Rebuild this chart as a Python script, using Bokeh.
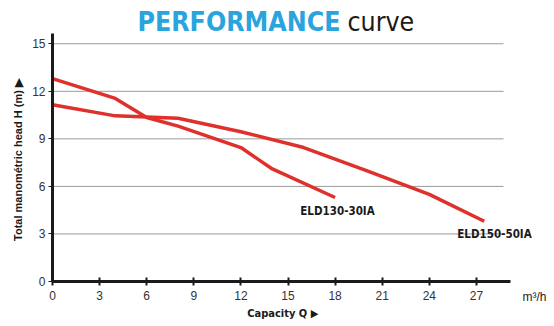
import math
from bokeh.plotting import figure
from bokeh.models import Range1d, FixedTicker, Label
from bokeh.embed import file_html
from bokeh.resources import INLINE

# ---- data ----
eld130_q = [0, 4, 6, 8, 12, 14, 18]
eld130_h = [12.8, 11.55, 10.35, 9.8, 8.45, 7.1, 5.3]
eld150_q = [0, 4, 8, 12, 16, 20, 24, 27.5]
eld150_h = [11.15, 10.45, 10.3, 9.45, 8.45, 7.0, 5.5, 3.8]
x_ticks = [0, 3, 6, 9, 12, 15, 18, 21, 24, 27]
y_ticks = [0, 3, 6, 9, 12, 15]
grid_vals = [3, 6, 9, 12, 15]
series_names = ["ELD130-30IA", "ELD150-50IA"]

W, H = 554, 326
X0PX, Y0PX = 52, 281          # pixel position of the origin
SX, SY = 15.7, 15.85          # pixels per unit


def dx(px):
    return (px - X0PX) / SX


def dy(py):
    return (Y0PX - py) / SY


p = figure(width=W, height=H, output_backend="svg", toolbar_location=None,
           x_range=Range1d(dx(0), dx(W)), y_range=Range1d(dy(H), dy(0)),
           min_border=0)
p.outline_line_color = None
p.xgrid.visible = False
p.ygrid.visible = False
p.background_fill_color = "white"
p.border_fill_color = "white"

COND = "'Liberation Sans Narrow', 'DejaVu Sans Condensed', 'Arial Narrow', sans-serif"

for ax in (p.xaxis[0], p.yaxis[0]):
    ax.fixed_location = 0
    ax.axis_line_width = 3
    ax.axis_line_color = "#1a1a1a"
    ax.major_tick_line_color = "#1a1a1a"
    ax.major_tick_line_width = 2
    ax.minor_tick_line_color = None
    ax.major_label_text_font = "Liberation Sans"
    ax.major_label_text_font_size = "12px"
    ax.major_label_text_color = "#333333"

p.xaxis.bounds = (0, dx(510))
p.yaxis.bounds = (0, dy(33))
p.xaxis.ticker = FixedTicker(ticks=x_ticks)
p.yaxis.ticker = FixedTicker(ticks=y_ticks)
p.xaxis.major_tick_in = 4
p.xaxis.major_tick_out = 4
p.xaxis.major_label_standoff = 5
p.yaxis.major_tick_in = 0
p.yaxis.major_tick_out = 4
p.yaxis.major_tick_line_width = 1
p.yaxis.major_label_standoff = 3

# horizontal grid lines
p.segment(x0=[0] * len(grid_vals), x1=[dx(503)] * len(grid_vals), y0=grid_vals, y1=grid_vals,
          line_color="#9a9a9a", line_width=1)

red = "#e0302c"
p.line(eld130_q, eld130_h, line_color=red, line_width=3.5)
p.line(eld150_q, eld150_h, line_color=red, line_width=3.5)

# curve labels
p.add_layout(Label(x=dx(337), y=dy(210), text=series_names[0], text_font=COND,
                   text_font_style="bold", text_font_size="11.5px", text_color="#1a1a1a",
                   text_align="center", text_baseline="middle"))
p.add_layout(Label(x=dx(494), y=dy(233), text=series_names[1], text_font=COND,
                   text_font_style="bold", text_font_size="11.5px", text_color="#1a1a1a",
                   text_align="center", text_baseline="middle"))

# title
p.add_layout(Label(x=dx(137), y=dy(5), text="PERFORMANCE", text_font=COND,
                   text_font_style="bold", text_font_size="26.5px", text_color="#2aa4dd",
                   text_align="left", text_baseline="top"))
p.add_layout(Label(x=dx(347), y=dy(5), text="curve", text_font=COND,
                   text_font_style="normal", text_font_size="26.5px", text_color="#1a1a1a",
                   text_align="left", text_baseline="top"))

# axis labels
p.add_layout(Label(x=dx(284), y=dy(313), text="Capacity Q  \u25B6", text_font=COND,
                   text_font_style="bold", text_font_size="11px", text_color="#1a1a1a",
                   text_align="center", text_baseline="middle"))
p.add_layout(Label(x=dx(534), y=dy(296), text="m\u00B3/h", text_font="Liberation Sans",
                   text_font_size="12px", text_color="#1a1a1a",
                   text_align="center", text_baseline="middle"))
p.add_layout(Label(x=dx(17), y=dy(158), text="Total manom\u00E9tric head H (m)  \u25B6",
                   text_font="Liberation Sans", text_font_style="bold", text_font_size="11px",
                   text_color="#1a1a1a", angle=math.pi / 2,
                   text_align="center", text_baseline="middle"))

open("out.html", "w").write(file_html(p, INLINE))
